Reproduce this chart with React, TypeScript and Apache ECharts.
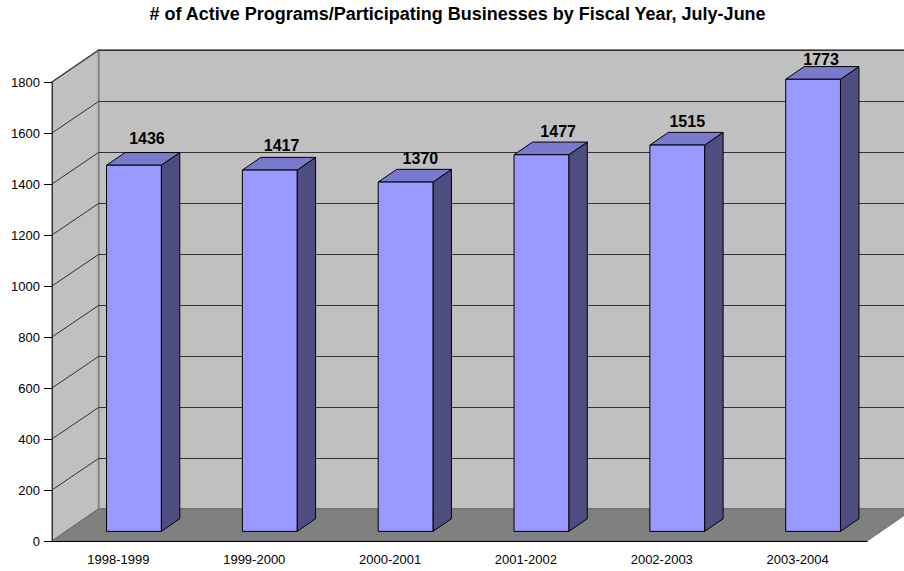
import React, { useEffect, useRef } from "react";
import * as echarts from "echarts";

const fiscalYears = ["1998-1999", "1999-2000", "2000-2001", "2001-2002", "2002-2003", "2003-2004"];
const activePrograms = [1436, 1417, 1370, 1477, 1515, 1773];
const gridValues = [200, 400, 600, 800, 1000, 1200, 1400, 1600, 1800];
const chartTitle = "# of Active Programs/Participating Businesses by Fiscal Year, July-June";

// Hand placement of each value label relative to its default spot above the column.
const labelShiftX = [1, -0.2, 2.8, 4.7, -2, -4];
const labelShiftY = [1, 3, 4, 4, 4, 8];

// Oblique projection of the box: full depth, gap before a column, column depth.
const DEPTH = [46.5, -32];
const GAP = [14, -9.6];
const COLUMN_DEPTH = [18.5, -12.7];
const COLUMN_SHARE = 0.403;

const WALL = "#C0C0C0";
const FLOOR = "#808080";
const EDGE = "#808080";
const FONT = "'Liberation Sans', Arial, sans-serif";

// Left end of the floor's front edge, given a value on the vertical axis.
const frontLeft = (api: any, value: number) => {
  const band = api.size([1, 0])[0];
  const p = api.coord([0, value]);
  return [p[0] - band / 2, p[1], band];
};

const renderBox = (_: any, api: any) => {
  const [x0, y0, band] = frontLeft(api, 0);
  const [, yTop] = frontLeft(api, 1800);
  const x1 = x0 + band * fiscalYears.length;
  const [dx, dy] = DEPTH;
  const shape = (points: number[][], fill: string, stroke = EDGE, lineWidth = 1) => ({
    type: "polygon",
    shape: { points },
    style: { fill, stroke, lineWidth },
  });
  return {
    type: "group",
    children: [
      shape([[x0 + dx, y0 + dy], [x1 + dx, y0 + dy], [x1 + dx, yTop + dy], [x0 + dx, yTop + dy]], WALL, EDGE, 2),
      shape([[x0, y0], [x0, yTop], [x0 + dx, yTop + dy], [x0 + dx, y0 + dy]], WALL, EDGE, 1.5),
    ],
  };
};

const renderFloor = (_: any, api: any) => {
  const [x0, y0, band] = frontLeft(api, 0);
  const x1 = x0 + band * fiscalYears.length;
  const [dx, dy] = DEPTH;
  return {
    type: "polygon",
    shape: { points: [[x0, y0], [x1, y0], [x1 + dx, y0 + dy], [x0 + dx, y0 + dy]] },
    style: { fill: FLOOR, stroke: "#6a6a6a", lineWidth: 1 },
  };
};

const renderGridLine = (_: any, api: any) => {
  const [x0, y, band] = frontLeft(api, api.value(0));
  const x1 = x0 + band * fiscalYears.length;
  const [dx, dy] = DEPTH;
  // Keep the back-wall run on a pixel row so it stays crisp.
  const backY = Math.floor(y + dy) + 0.5;
  return {
    type: "polyline",
    shape: { points: [[x0, y], [x0 + dx, backY], [x1 + dx, backY]] },
    style: { fill: "none", stroke: "#303030", lineWidth: 1 },
  };
};

const renderColumn = (_: any, api: any) => {
  const index = api.value(0);
  const value = api.value(1);
  const band = api.size([1, 0])[0];
  const w = band * COLUMN_SHARE;
  const base = api.coord([index, 0]);
  const top = api.coord([index, value]);
  const left = base[0] + GAP[0] - w / 2;
  const right = left + w;
  const yb = base[1] + GAP[1];
  const yt = top[1] + GAP[1];
  const [cx, cy] = COLUMN_DEPTH;
  const stroke = { stroke: "#000", lineWidth: 1, lineJoin: "round" };
  return {
    type: "group",
    children: [
      {
        type: "polygon",
        shape: { points: [[right, yb], [right + cx, yb + cy], [right + cx, yt + cy], [right, yt]] },
        style: { fill: "#4D4D80", ...stroke },
      },
      {
        type: "polygon",
        shape: { points: [[left, yt], [right, yt], [right + cx, yt + cy], [left + cx, yt + cy]] },
        style: { fill: "#7A7ACC", ...stroke },
      },
      {
        type: "rect",
        shape: { x: left, y: yt, width: w, height: yb - yt },
        style: { fill: "#9999FF", ...stroke },
      },
      {
        type: "text",
        style: {
          text: String(value),
          x: left + w / 2 + cx * 0.65 + labelShiftX[index],
          y: yt + cy - 7 + labelShiftY[index],
          align: "center",
          verticalAlign: "bottom",
          fill: "#000",
          font: `bold 16px ${FONT}`,
        },
      },
    ],
  };
};

export default function App() {
  const ref = useRef<HTMLDivElement>(null);

  useEffect(() => {
    const chart = echarts.init(ref.current!, undefined, { renderer: "svg" });
    chart.setOption({
      animation: false,
      backgroundColor: "#fff",
      title: {
        text: chartTitle,
        left: 452.5,
        top: 0,
        textAlign: "center",
        textStyle: { fontFamily: FONT, fontSize: 18, fontWeight: "bold", color: "#000" },
      },
      grid: { left: 52, right: 37, top: 82, bottom: 30 },
      xAxis: {
        type: "category",
        data: fiscalYears,
        z: 5,
        axisLine: { lineStyle: { color: "#000", width: 1 } },
        axisTick: { length: 8, alignWithLabel: false, lineStyle: { color: "#000" } },
        axisLabel: { fontFamily: FONT, fontSize: 13, color: "#000", margin: 12, padding: [0, 3, 0, 0] },
      },
      yAxis: {
        type: "value",
        min: 0,
        max: 1800,
        interval: 200,
        z: 5,
        axisLine: { show: true, lineStyle: { color: "#333", width: 1 } },
        axisTick: { show: true, length: 8, lineStyle: { color: "#000" } },
        axisLabel: { fontFamily: FONT, fontSize: 13, color: "#000", margin: 12, formatter: (v: number) => String(v) },
        splitLine: { show: false },
      },
      series: [
        { type: "custom", z: 1, renderItem: renderBox, data: [0], encode: { x: -1, y: -1 } },
        { type: "custom", z: 2, renderItem: renderGridLine, data: gridValues.map((v) => [v]), encode: { x: -1, y: -1 } },
        { type: "custom", z: 3, renderItem: renderFloor, data: [0], encode: { x: -1, y: -1 } },
        {
          type: "custom",
          z: 4,
          renderItem: renderColumn,
          data: activePrograms.map((v, i) => [i, v]),
          encode: { x: 0, y: 1 },
        },
      ],
    });
    return () => chart.dispose();
  }, []);

  return <div ref={ref} style={{ position: "absolute", left: 0, top: 0, width: 904, height: 571 }} />;
}
